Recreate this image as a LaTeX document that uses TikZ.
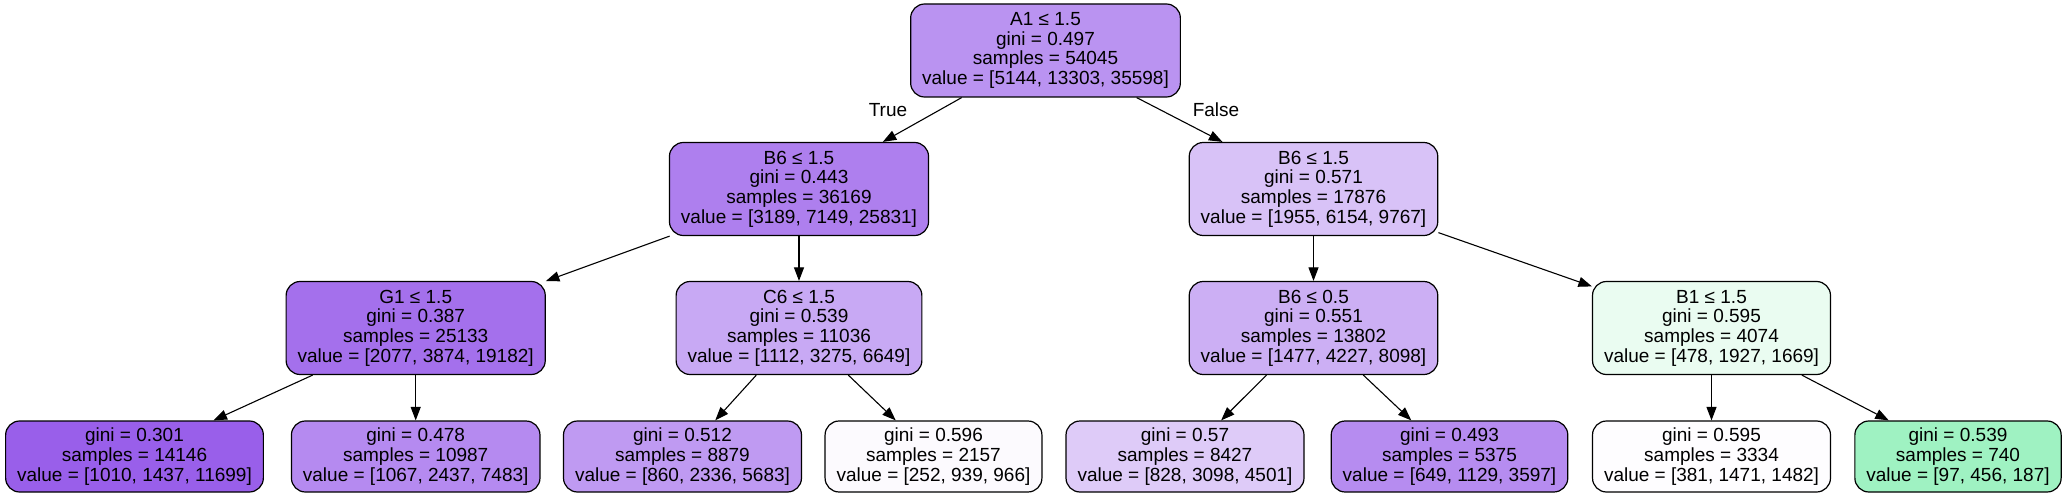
\documentclass[tikz,border=0pt]{standalone}
\usepackage{fontspec}
\setmainfont{Liberation Sans}
\usetikzlibrary{arrows.meta}
\definecolor{cRoot}{HTML}{BA93F1}
\definecolor{cBL}{HTML}{AE7FEE}
\definecolor{cBR}{HTML}{D8C2F7}
\definecolor{cGone}{HTML}{A470EC}
\definecolor{cCsix}{HTML}{C8A9F4}
\definecolor{cBhalf}{HTML}{CCAFF4}
\definecolor{cBone}{HTML}{EAFCF1}
\definecolor{cLa}{HTML}{995FEA}
\definecolor{cLb}{HTML}{B58AF0}
\definecolor{cLc}{HTML}{BF9AF2}
\definecolor{cLd}{HTML}{FCFAFE}
\definecolor{cLe}{HTML}{DECBF8}
\definecolor{cLf}{HTML}{B68CF0}
\definecolor{cLg}{HTML}{FEFDFF}
\definecolor{cLh}{HTML}{9FF2C2}
\begin{document}
\begin{tikzpicture}[x=1pt,y=-1pt,
  tnode/.style={draw=black, line width=1.2pt, rounded corners=14pt, align=center,
    inner xsep=11.5pt, inner ysep=0pt, font=\fontsize{19}{19.7}\selectfont},
  fourline/.style={tnode, minimum height=93pt},
  threeline/.style={tnode, minimum height=71pt},
  conn/.style={line width=1.1pt, -{Triangle[length=13.5pt,width=10pt]}},
  lbl/.style={font=\fontsize{19}{19.7}\selectfont, inner sep=0pt}]
\useasboundingbox (0,0) rectangle (2066,497);
% level 1
\node[fourline, fill=cRoot] (root) at (1045.5,50.5) {A1 ≤ 1.5\\gini = 0.497\\samples = 54045\\value = [5144, 13303, 35598]};
% level 2
\node[fourline, fill=cBL] (bl) at (799,189) {B6 ≤ 1.5\\gini = 0.443\\samples = 36169\\value = [3189, 7149, 25831]};
\node[fourline, fill=cBR] (br) at (1313.5,189) {B6 ≤ 1.5\\gini = 0.571\\samples = 17876\\value = [1955, 6154, 9767]};
% level 3
\node[fourline, fill=cGone] (g1) at (415.7,328) {G1 ≤ 1.5\\gini = 0.387\\samples = 25133\\value = [2077, 3874, 19182]};
\node[fourline, fill=cCsix] (c6) at (799,328) {C6 ≤ 1.5\\gini = 0.539\\samples = 11036\\value = [1112, 3275, 6649]};
\node[fourline, fill=cBhalf] (b05) at (1313.5,328) {B6 ≤ 0.5\\gini = 0.551\\samples = 13802\\value = [1477, 4227, 8098]};
\node[fourline, fill=cBone] (b1) at (1711.5,328) {B1 ≤ 1.5\\gini = 0.595\\samples = 4074\\value = [478, 1927, 1669]};
% leaves
\node[threeline, fill=cLa] (la) at (134.5,456.5) {gini = 0.301\\samples = 14146\\value = [1010, 1437, 11699]};
\node[threeline, fill=cLb] (lb) at (415.7,456.5) {gini = 0.478\\samples = 10987\\value = [1067, 2437, 7483]};
\node[threeline, fill=cLc] (lc) at (682.5,456.5) {gini = 0.512\\samples = 8879\\value = [860, 2336, 5683]};
\node[threeline, fill=cLd] (ld) at (933.5,456.5) {gini = 0.596\\samples = 2157\\value = [252, 939, 966]};
\node[threeline, fill=cLe] (le) at (1185,456.5) {gini = 0.57\\samples = 8427\\value = [828, 3098, 4501]};
\node[threeline, fill=cLf] (lf) at (1449.5,456.5) {gini = 0.493\\samples = 5375\\value = [649, 1129, 3597]};
\node[threeline, fill=cLg] (lg) at (1711.5,456.5) {gini = 0.595\\samples = 3334\\value = [381, 1471, 1482]};
\node[threeline, fill=cLh] (lh) at (1958,456.5) {gini = 0.539\\samples = 740\\value = [97, 456, 187]};
% edges
\draw[conn] (root) -- (bl);
\draw[conn] (root) -- (br);
\draw[conn] (bl) -- (g1);
\draw[conn] (bl) -- (c6);
\draw[conn] (br) -- (b05);
\draw[conn] (br) -- (b1);
\draw[conn] (g1) -- (la);
\draw[conn] (g1) -- (lb);
\draw[conn] (c6) -- (lc);
\draw[conn] (c6) -- (ld);
\draw[conn] (b05) -- (le);
\draw[conn] (b05) -- (lf);
\draw[conn] (b1) -- (lg);
\draw[conn] (b1) -- (lh);
% edge labels
\node[lbl] (tlabel) at (888,110) {True};
\node[lbl] (flabel) at (1216,110) {False};
\end{tikzpicture}
\end{document}
